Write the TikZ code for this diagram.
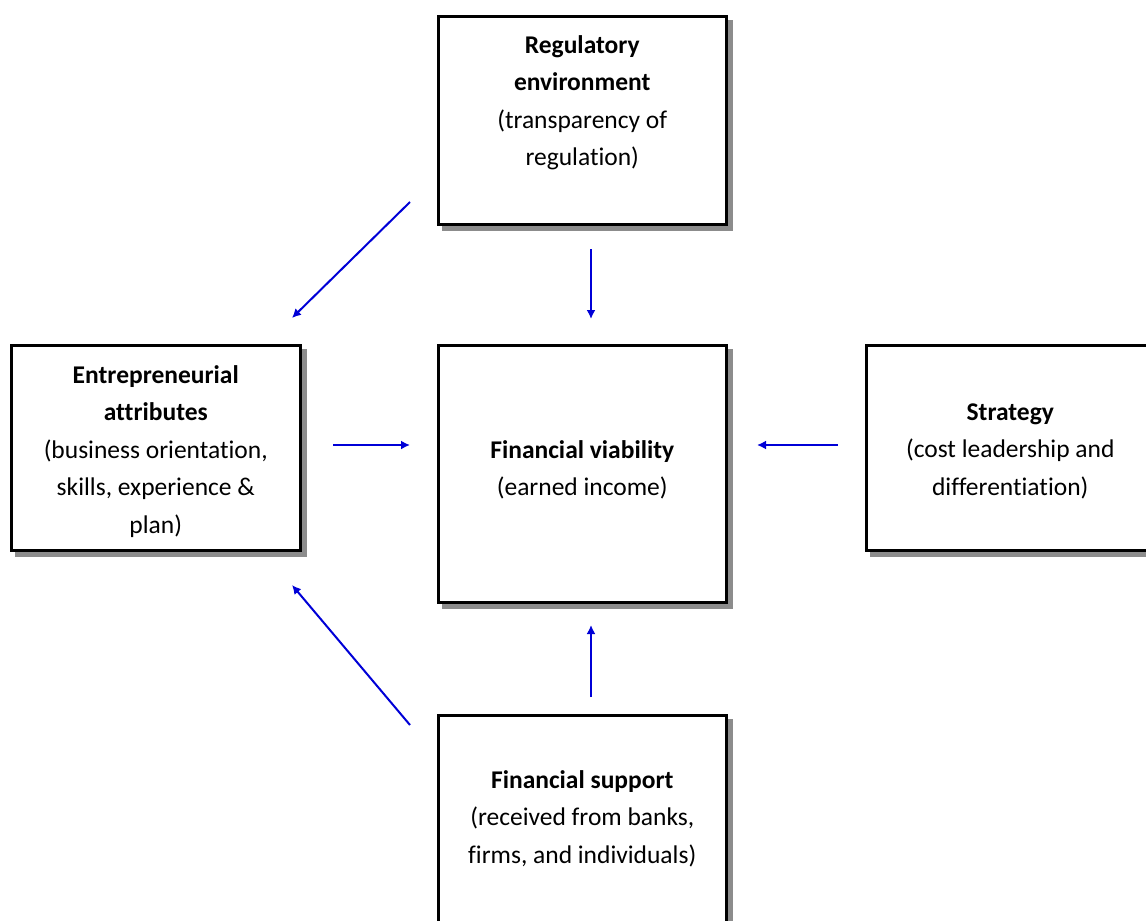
\documentclass[tikz,border=0pt]{standalone}
\usepackage{fontspec}
\setmainfont{Carlito}[Ligatures={NoCommon,NoRare}]
\usetikzlibrary{shadows,arrows.meta}
\definecolor{sgray}{RGB}{140,140,140}
\definecolor{ablue}{RGB}{0,0,215}
\tikzset{
  boxnode/.style={draw=black, line width=3pt, fill=white, rectangle, inner sep=0pt,
    drop shadow={shadow xshift=5pt, shadow yshift=-5pt, fill=sgray, draw=sgray, line width=3pt, opacity=1}},
  txt/.style={anchor=north, inner sep=0pt, align=center, font=\fontsize{25.5}{37.5}\selectfont},
  arr/.style={draw=ablue, line width=2pt, -{Latex[length=9pt,width=9pt]}}
}
\begin{document}
\begin{tikzpicture}[x=1pt,y=-1pt]
\useasboundingbox (0,0) rectangle (1146,921);
\clip (0,0) rectangle (1146,921);
\fill[white] (0,0) rectangle (1146,921);
% boxes
\node[boxnode, minimum width=288.5pt, minimum height=207.5pt] (reg) at (582.25,120.25) {};
\node[boxnode, minimum width=288.5pt, minimum height=257pt] (fin) at (582.25,473.5) {};
\node[boxnode, minimum width=288.5pt, minimum height=205pt] (ent) at (155.75,447.5) {};
\node[boxnode, minimum width=288.5pt, minimum height=205pt] (str) at (1010.25,447.5) {};
\node[boxnode, minimum width=288.5pt, minimum height=257pt] (sup) at (582.25,843.5) {};
% texts
\node[txt] (regt) at (582.25,26.75) {\strut\textbf{Regulatory}\\\textbf{environment}\\(transparency of\\regulation)};
\node[txt] (fint) at (582.25,431.75) {\strut\textbf{Financial viability}\\(earned income)};
\node[txt] (entt) at (155.75,356.75) {\strut\textbf{Entrepreneurial}\\\textbf{attributes}\\(business orientation,\\skills, experience \&\\plan)};
\node[txt] (strt) at (1010.25,393.75) {\strut\textbf{Strategy}\\(cost leadership and\\differentiation)};
\node[txt] (supt) at (582.25,761.75) {\strut\textbf{Financial support}\\(received from banks,\\firms, and individuals)};
% arrow end points
\coordinate (a1s) at (410,202); \coordinate (a1e) at (292,318);
\coordinate (a2s) at (591,249); \coordinate (a2e) at (591,319);
\coordinate (a3s) at (333,445); \coordinate (a3e) at (410,445);
\coordinate (a4s) at (838,445); \coordinate (a4e) at (757,445);
\coordinate (a5s) at (591,697); \coordinate (a5e) at (591,625);
\coordinate (a6s) at (410,725); \coordinate (a6e) at (292,585);
\draw[arr] (a1s) -- (a1e);
\draw[arr] (a2s) -- (a2e);
\draw[arr] (a3s) -- (a3e);
\draw[arr] (a4s) -- (a4e);
\draw[arr] (a5s) -- (a5e);
\draw[arr] (a6s) -- (a6e);
\end{tikzpicture}
\end{document}
